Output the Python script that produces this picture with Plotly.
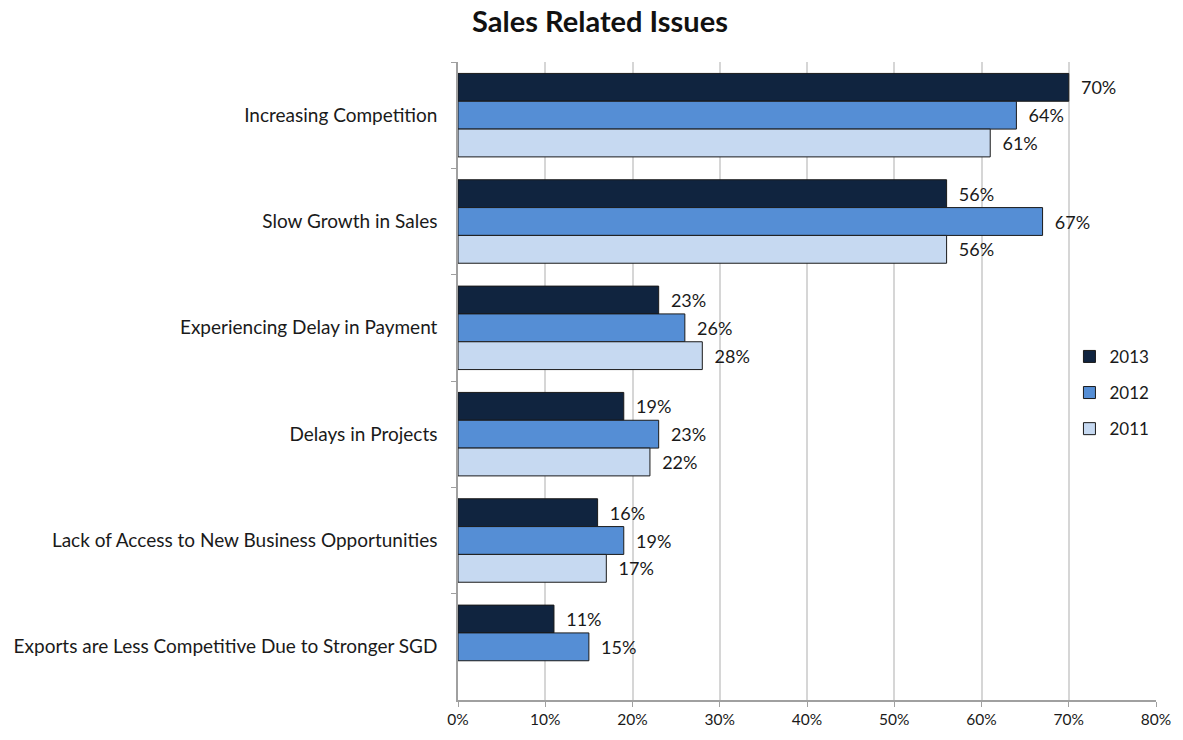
import plotly.graph_objects as go

categories = [
    "Increasing Competition",
    "Slow Growth in Sales",
    "Experiencing Delay in Payment",
    "Delays in Projects",
    "Lack of Access to New Business Opportunities",
    "Exports are Less Competitive Due to Stronger SGD",
]
years = ["2013", "2012", "2011"]
vals_2013 = [70, 56, 23, 19, 16, 11]
vals_2012 = [64, 67, 26, 23, 19, 15]
vals_2011 = [61, 56, 28, 22, 17, None]
colors = ["#10243F", "#558ED5", "#C6D9F1"]

FONT = "Lato, 'Open Sans', sans-serif"

fig = go.Figure()
for name, vals, col in zip(years, [vals_2013, vals_2012, vals_2011], colors):
    fig.add_trace(go.Bar(
        y=categories, x=vals, name=name, orientation="h",
        marker=dict(color=col, line=dict(color="#1a1a1a", width=1)),
        text=[f"  {v}%" if v is not None else "" for v in vals],
        textposition="outside", cliponaxis=False,
        textfont=dict(family=FONT, size=18, color="#1a1a1a"),
        legendgroup=name,
    ))

fig.update_layout(
    width=1183, height=740,
    paper_bgcolor="white", plot_bgcolor="white",
    margin=dict(l=458, r=26, t=62, b=33),
    barmode="group", bargap=0.215, bargroupgap=0,
    font=dict(family=FONT, color="#1a1a1a"),
    title=dict(text="<b>Sales Related Issues</b>", x=600 / 1183, xref="container",
               xanchor="center", y=1 - 22 / 740, yref="container", yanchor="middle",
               font=dict(size=29, color="#111")),
    legend=dict(x=0.876, y=0.566, xanchor="left", yanchor="top",
                traceorder="grouped", tracegroupgap=11,
                font=dict(size=17, color="#1a1a1a"), bgcolor="rgba(0,0,0,0)"),
    xaxis=dict(range=[0, 80], dtick=10, ticksuffix="%",
               showgrid=True, gridcolor="#D6D6D6", gridwidth=2,
               showline=True, linecolor="#A0A0A0", linewidth=1.5,
               ticks="outside", ticklen=5, tickcolor="#A0A0A0",
               tickfont=dict(size=15.5, color="#1a1a1a"), zeroline=False),
    yaxis=dict(autorange="reversed", type="category",
               showline=True, linecolor="#A0A0A0", linewidth=1.5,
               ticks="outside", ticklen=5, tickcolor="#A0A0A0", tickson="boundaries",
               showgrid=False, ticklabelstandoff=15,
               tickfont=dict(size=19, color="#1a1a1a")),
)

fig.write_html("out.html", config={"displayModeBar": False},
               post_script="document.body.style.margin='0';")
